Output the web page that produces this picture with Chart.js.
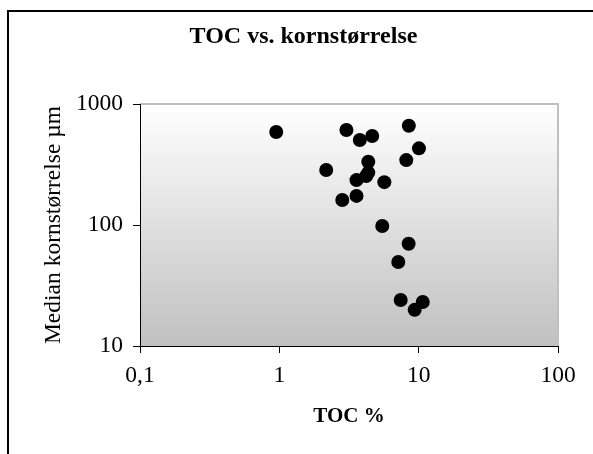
<!DOCTYPE html>
<html>
<head>
<meta charset="utf-8">
<script src="https://cdn.jsdelivr.net/npm/chart.js@4/dist/chart.umd.min.js"></script>
<style>
  html, body { margin: 0; padding: 0; background: #ffffff; }
  #wrap { position: relative; width: 593px; height: 454px; }
</style>
</head>
<body>
<div id="wrap"><canvas id="c" width="593" height="454"></canvas></div>
<script>
// Data
const tocPercent = [0.95, 3.03, 3.78, 4.64, 8.5, 10.05, 8.15, 4.35, 2.17, 4.35, 4.2, 3.58, 5.67, 3.58, 2.83, 5.48, 8.47, 7.14, 7.43, 10.7, 9.36];
const medianGrain = [587, 610, 504, 544, 662, 430, 344, 333, 285, 271, 254, 235, 226, 174, 161, 98, 70, 49.4, 24, 23.1, 19.9];
const xTickValues = [0.1, 1, 10, 100];
const xTickLabels = ['0,1', '1', '10', '100'];
const yTickValues = [10, 100, 1000];
const yTickLabels = ['10', '100', '1000'];
const chartTitle = 'TOC vs. kornstørrelse';
const xTitle = 'TOC %';
const yTitle = 'Median kornstørrelse µm';

const serif = "'Liberation Serif', 'Times New Roman', Times, serif";

const points = tocPercent.map((x, i) => ({ x: x, y: medianGrain[i] }));

const decor = {
  id: 'decor',
  beforeDraw(chart) {
    const ctx = chart.ctx;
    const a = chart.chartArea;
    ctx.save();
    const g = ctx.createLinearGradient(0, a.top, 0, a.bottom);
    g.addColorStop(0, '#ffffff');
    g.addColorStop(1, '#c0c0c0');
    ctx.fillStyle = g;
    ctx.fillRect(a.left, a.top, a.right - a.left, a.bottom - a.top);
    ctx.strokeStyle = '#c0c0c0';
    ctx.lineWidth = 2;
    ctx.beginPath();
    ctx.moveTo(a.left, a.top);
    ctx.lineTo(a.right, a.top);
    ctx.lineTo(a.right, a.bottom);
    ctx.stroke();
    // outer frame
    ctx.strokeStyle = '#000000';
    ctx.lineWidth = 2;
    ctx.beginPath();
    ctx.moveTo(8, chart.height + 5);
    ctx.lineTo(8, 11);
    ctx.lineTo(chart.width + 5, 11);
    ctx.stroke();
    ctx.restore();
  }
};

new Chart(document.getElementById('c'), {
  type: 'scatter',
  data: {
    datasets: [{
      data: points,
      backgroundColor: '#000000',
      borderColor: '#000000',
      pointRadius: 7,
      pointHoverRadius: 7,
      borderWidth: 0
    }]
  },
  options: {
    responsive: false,
    animation: false,
    events: [],
    layout: { padding: { left: 49, top: 0, right: 35, bottom: 0 } },
    plugins: {
      legend: { display: false },
      tooltip: { enabled: false },
      title: {
        display: true,
        text: chartTitle,
        color: '#000000',
        font: { family: serif, size: 24, weight: 'bold' },
        padding: { top: 22, bottom: 53.2 }
      }
    },
    scales: {
      x: {
        type: 'logarithmic',
        min: 0.1,
        max: 100,
        afterBuildTicks(scale) { scale.ticks = xTickValues.map(v => ({ value: v })); },
        afterFit(scale) { scale.height = 108; },
        ticks: {
          color: '#000000',
          font: { family: serif, size: 23.5 },
          padding: 9,
          autoSkip: false,
          maxRotation: 0,
          callback(value) { const i = xTickValues.indexOf(value); return i >= 0 ? xTickLabels[i] : ''; }
        },
        grid: { drawOnChartArea: false, drawTicks: true, tickLength: 7, color: '#000000' },
        border: { display: true, color: '#000000', width: 1 },
        title: {
          display: true,
          text: xTitle,
          color: '#000000',
          font: { family: serif, size: 21, weight: 'bold' },
          padding: { top: 0, bottom: 24.5 }
        }
      },
      y: {
        type: 'logarithmic',
        min: 10,
        max: 1000,
        afterBuildTicks(scale) { scale.ticks = yTickValues.map(v => ({ value: v })); },
        afterFit(scale) { scale.width = 91; },
        ticks: {
          color: '#000000',
          font: { family: serif, size: 23.5 },
          padding: 10,
          autoSkip: false,
          callback(value) { const i = yTickValues.indexOf(value); return i >= 0 ? yTickLabels[i] : ''; }
        },
        grid: { drawOnChartArea: false, drawTicks: true, tickLength: 7, color: '#000000' },
        border: { display: true, color: '#000000', width: 1 },
        title: {
          display: true,
          text: yTitle,
          color: '#000000',
          font: { family: serif, size: 23.5 },
          padding: { top: -9.5, bottom: 0 }
        }
      }
    }
  },
  plugins: [decor]
});
</script>
</body>
</html>
